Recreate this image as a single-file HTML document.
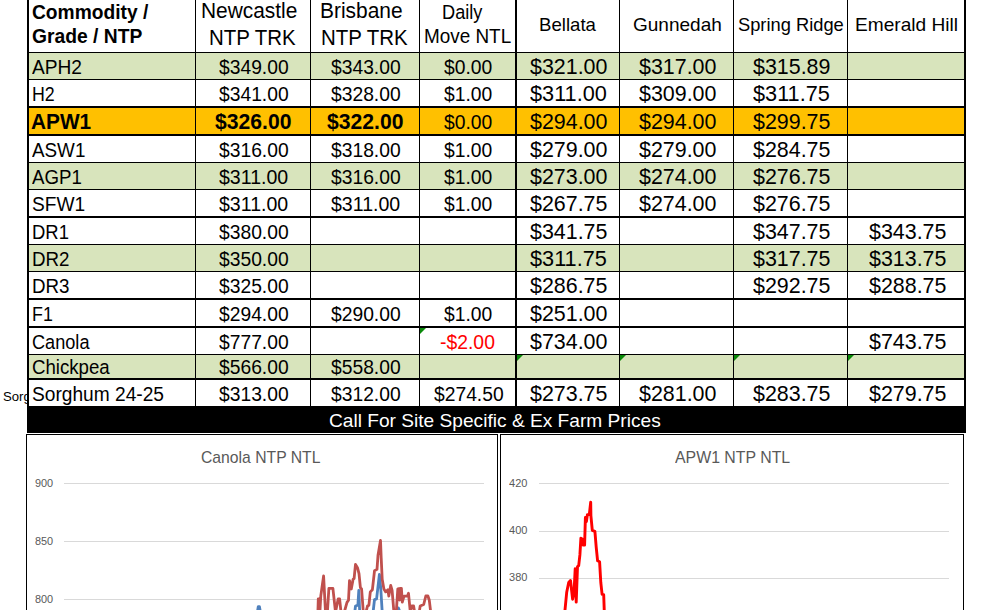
<!DOCTYPE html>
<html><head><meta charset="utf-8"><title>Grain Prices</title>
<style>
html,body{margin:0;padding:0;background:#fff}
body{width:996px;height:610px;position:relative;overflow:hidden;font-family:"Liberation Sans", Arial, sans-serif}
.f,.l,.t,.g{position:absolute}
.l{background:#000}
.t{white-space:pre;line-height:1;transform-origin:0 0}
.g{height:1px;background:#D9D9D9}
.tri{position:absolute;width:0;height:0;border-top:6px solid #0A8A0A;border-right:6px solid transparent}
.ch{position:absolute;border:1px solid #000;border-bottom:none;background:#fff;box-sizing:border-box}
</style></head><body>

<div class="f" style="left:29px;top:53px;width:935px;height:26px;background:#D8E4BC"></div>
<div class="f" style="left:29px;top:108px;width:935px;height:26px;background:#FFC000"></div>
<div class="f" style="left:29px;top:163px;width:935px;height:26px;background:#D8E4BC"></div>
<div class="f" style="left:29px;top:245px;width:935px;height:26px;background:#D8E4BC"></div>
<div class="f" style="left:29px;top:355px;width:935px;height:23px;background:#D8E4BC"></div>
<div class="l" style="left:27px;top:0;width:2px;height:406px"></div>
<div class="l" style="left:195px;top:0;width:1px;height:406px"></div>
<div class="l" style="left:310px;top:0;width:1px;height:406px"></div>
<div class="l" style="left:419px;top:0;width:1px;height:406px"></div>
<div class="l" style="left:515px;top:0;width:2px;height:406px"></div>
<div class="l" style="left:619px;top:0;width:1px;height:406px"></div>
<div class="l" style="left:733px;top:0;width:1px;height:406px"></div>
<div class="l" style="left:847px;top:0;width:1px;height:406px"></div>
<div class="l" style="left:964px;top:0;width:2px;height:406px"></div>
<div class="l" style="left:27px;top:52px;width:939px;height:1px"></div>
<div class="l" style="left:27px;top:79px;width:939px;height:1px"></div>
<div class="l" style="left:27px;top:106px;width:939px;height:2px"></div>
<div class="l" style="left:27px;top:134px;width:939px;height:2px"></div>
<div class="l" style="left:27px;top:162px;width:939px;height:1px"></div>
<div class="l" style="left:27px;top:189px;width:939px;height:1px"></div>
<div class="l" style="left:27px;top:216px;width:939px;height:2px"></div>
<div class="l" style="left:27px;top:244px;width:939px;height:1px"></div>
<div class="l" style="left:27px;top:271px;width:939px;height:1px"></div>
<div class="l" style="left:27px;top:298px;width:939px;height:2px"></div>
<div class="l" style="left:27px;top:326px;width:939px;height:2px"></div>
<div class="l" style="left:27px;top:354px;width:939px;height:1px"></div>
<div class="l" style="left:27px;top:378px;width:939px;height:2px"></div>
<div class="l" style="left:27px;top:406px;width:939px;height:27px"></div>
<div class="tri" style="left:420px;top:328px"></div>
<div class="tri" style="left:517px;top:355px"></div>
<div class="tri" style="left:620px;top:355px"></div>
<div class="tri" style="left:734px;top:355px"></div>
<div class="tri" style="left:848px;top:355px"></div>
<div class="ch" style="left:26px;top:434px;width:472px;height:180px"></div>
<div class="ch" style="left:500px;top:434px;width:464px;height:180px"></div>
<div class="g" style="left:64px;top:483px;width:420px"></div>
<div class="g" style="left:64px;top:541px;width:420px"></div>
<div class="g" style="left:64px;top:599px;width:420px"></div>
<div class="g" style="left:539px;top:483px;width:410px"></div>
<div class="g" style="left:539px;top:531px;width:410px"></div>
<div class="g" style="left:539px;top:578px;width:410px"></div>
<svg class="f" style="left:0;top:0" width="996" height="610" viewBox="0 0 996 610" fill="none" stroke-linejoin="round" stroke-linecap="round">
<polyline stroke="#4F81BD" stroke-width="2.8" points="257.4,612 258.3,606.6 259.4,606.6 260.4,612"/>
<polyline stroke="#4F81BD" stroke-width="2.8" points="354.8,612 355.5,606 357.9,605.2 358.8,590.4 359.7,612"/>
<polyline stroke="#4F81BD" stroke-width="2.8" points="373.1,612 374.5,599.6 376.6,598.9 379.4,574.3 380.8,589 382.2,612"/>
<polyline stroke="#4F81BD" stroke-width="2.8" points="396,612 398.4,608 400,612"/>
<polyline stroke="#C0504D" stroke-width="2.8" points="317.9,612 318.3,598.9 319.2,598.9 319.9,612 320.8,595.9 323.6,576 325.5,612 327.4,612 328.9,588.4 332.9,588.4 335.5,612 338.2,598.9 339.6,599 341,612 344.3,612 347,602.4 348.5,600.3 349.5,580.6 351.3,589 353.1,579.2 354.1,578.5 355.5,564.4 357.6,568 359,573.6 360.4,587.6 361.6,589 363.3,612 366,612 367.5,606 368.9,605.2 370.3,591.9 372.4,589.7 374.5,570.8 377,569.4 378,555.3 380.5,540.5 381.2,558.1 382.2,579.2 383.9,589 385.7,591.9 387.9,589.7 388.8,596.1 390.7,585.5 392.1,590.4 393.9,612 396.3,612 397.8,588.8 399,588.6 399.6,600 400.4,588.4 401.4,588.4 402.3,602.1 404,596.1 407.5,596 408.5,593.3 410.3,612 411.8,606 413.6,606 414.6,612 419.2,612 420.2,606 423.7,604.5 425.8,596 427.9,596 429.3,600.3 430.7,612"/>
<polyline stroke="#FF0000" stroke-width="2.9" points="564.8,612 566.7,592.3 568.7,582.5 570.5,580.5 572.6,599.2 574,592.3 575.2,568.7 576.2,602.1 577.5,566.7 578.7,565.7 579.9,554.9 580.9,538.2 582.5,539.2 583.1,545.1 584.6,545.1 585.4,517.5 586.4,521.5 587.4,514.6 589.3,514.6 590.7,502.2 590.9,515.6 592.3,530.3 594.9,531.3 596.2,547.1 597.6,560.8 599.6,561.8 600.8,582.5 602.1,594.3 603.7,594.7 604.3,612"/>
</svg>

<span class="t" style="left:31.90px;top:2px;font-size:20.0px;font-weight:bold;transform:scaleX(0.9603);">Commodity /</span>
<span class="t" style="left:31.90px;top:26px;font-size:20.0px;font-weight:bold;transform:scaleX(0.9640);">Grade / NTP</span>
<span class="t" style="left:201.03px;top:1px;font-size:21.5px;transform:scaleX(0.9714);">Newcastle</span>
<span class="t" style="left:209.05px;top:28px;font-size:21.5px;transform:scaleX(0.9511);">NTP TRK</span>
<span class="t" style="left:320.43px;top:1px;font-size:21.5px;transform:scaleX(0.9735);">Brisbane</span>
<span class="t" style="left:321.05px;top:28px;font-size:21.5px;transform:scaleX(0.9511);">NTP TRK</span>
<span class="t" style="left:442.18px;top:3px;font-size:19.7px;transform:scaleX(0.9233);">Daily</span>
<span class="t" style="left:424.04px;top:27px;font-size:19.7px;transform:scaleX(0.9596);">Move NTL</span>
<span class="t" style="left:539.48px;top:16px;font-size:18.2px;transform:scaleX(1.0236);">Bellata</span>
<span class="t" style="left:632.55px;top:16px;font-size:18.2px;transform:scaleX(1.0458);">Gunnedah</span>
<span class="t" style="left:737.99px;top:16px;font-size:18.2px;transform:scaleX(1.0058);">Spring Ridge</span>
<span class="t" style="left:854.55px;top:16px;font-size:18.2px;transform:scaleX(1.0505);">Emerald Hill</span>
<span class="t" style="left:31.70px;top:58px;font-size:19.7px;transform:scaleX(0.9725);">APH2</span>
<span class="t" style="left:219.05px;top:58px;font-size:19.7px;transform:scaleX(0.9789);">$349.00</span>
<span class="t" style="left:331.05px;top:58px;font-size:19.7px;transform:scaleX(0.9789);">$343.00</span>
<span class="t" style="left:444.30px;top:58px;font-size:19.7px;transform:scaleX(0.9796);">$0.00</span>
<span class="t" style="left:529.55px;top:57px;font-size:21.5px;transform:scaleX(0.9961);">$321.00</span>
<span class="t" style="left:639.05px;top:57px;font-size:21.5px;transform:scaleX(0.9961);">$317.00</span>
<span class="t" style="left:753.05px;top:57px;font-size:21.5px;transform:scaleX(0.9961);">$315.89</span>
<span class="t" style="left:31.80px;top:85px;font-size:19.7px;transform:scaleX(0.9042);">H2</span>
<span class="t" style="left:219.05px;top:85px;font-size:19.7px;transform:scaleX(0.9789);">$341.00</span>
<span class="t" style="left:331.05px;top:85px;font-size:19.7px;transform:scaleX(0.9789);">$328.00</span>
<span class="t" style="left:444.30px;top:85px;font-size:19.7px;transform:scaleX(0.9796);">$1.00</span>
<span class="t" style="left:529.55px;top:84px;font-size:21.5px;transform:scaleX(1.0092);">$311.00</span>
<span class="t" style="left:639.05px;top:84px;font-size:21.5px;transform:scaleX(0.9961);">$309.00</span>
<span class="t" style="left:753.05px;top:84px;font-size:21.5px;transform:scaleX(1.0092);">$311.75</span>
<span class="t" style="left:31.13px;top:112px;font-size:21.5px;font-weight:bold;transform:scaleX(0.9689);">APW1</span>
<span class="t" style="left:215.15px;top:112px;font-size:21.5px;font-weight:bold;transform:scaleX(0.9831);">$326.00</span>
<span class="t" style="left:327.15px;top:112px;font-size:21.5px;font-weight:bold;transform:scaleX(0.9831);">$322.00</span>
<span class="t" style="left:444.30px;top:113px;font-size:19.7px;transform:scaleX(0.9796);">$0.00</span>
<span class="t" style="left:529.55px;top:112px;font-size:21.5px;transform:scaleX(0.9961);">$294.00</span>
<span class="t" style="left:639.05px;top:112px;font-size:21.5px;transform:scaleX(0.9961);">$294.00</span>
<span class="t" style="left:753.05px;top:112px;font-size:21.5px;transform:scaleX(0.9961);">$299.75</span>
<span class="t" style="left:32.10px;top:141px;font-size:19.7px;transform:scaleX(0.9564);">ASW1</span>
<span class="t" style="left:219.05px;top:141px;font-size:19.7px;transform:scaleX(0.9789);">$316.00</span>
<span class="t" style="left:331.05px;top:141px;font-size:19.7px;transform:scaleX(0.9789);">$318.00</span>
<span class="t" style="left:444.30px;top:141px;font-size:19.7px;transform:scaleX(0.9796);">$1.00</span>
<span class="t" style="left:529.55px;top:140px;font-size:21.5px;transform:scaleX(0.9961);">$279.00</span>
<span class="t" style="left:639.05px;top:140px;font-size:21.5px;transform:scaleX(0.9961);">$279.00</span>
<span class="t" style="left:753.05px;top:140px;font-size:21.5px;transform:scaleX(0.9961);">$284.75</span>
<span class="t" style="left:32.10px;top:168px;font-size:19.7px;transform:scaleX(0.9481);">AGP1</span>
<span class="t" style="left:219.05px;top:168px;font-size:19.7px;transform:scaleX(0.9929);">$311.00</span>
<span class="t" style="left:331.05px;top:168px;font-size:19.7px;transform:scaleX(0.9789);">$316.00</span>
<span class="t" style="left:444.30px;top:168px;font-size:19.7px;transform:scaleX(0.9796);">$1.00</span>
<span class="t" style="left:529.55px;top:167px;font-size:21.5px;transform:scaleX(0.9961);">$273.00</span>
<span class="t" style="left:639.05px;top:167px;font-size:21.5px;transform:scaleX(0.9961);">$274.00</span>
<span class="t" style="left:753.05px;top:167px;font-size:21.5px;transform:scaleX(0.9961);">$276.75</span>
<span class="t" style="left:31.73px;top:195px;font-size:19.7px;transform:scaleX(0.9717);">SFW1</span>
<span class="t" style="left:219.05px;top:195px;font-size:19.7px;transform:scaleX(0.9929);">$311.00</span>
<span class="t" style="left:331.05px;top:195px;font-size:19.7px;transform:scaleX(0.9929);">$311.00</span>
<span class="t" style="left:444.30px;top:195px;font-size:19.7px;transform:scaleX(0.9796);">$1.00</span>
<span class="t" style="left:529.55px;top:194px;font-size:21.5px;transform:scaleX(0.9961);">$267.75</span>
<span class="t" style="left:639.05px;top:194px;font-size:21.5px;transform:scaleX(0.9961);">$274.00</span>
<span class="t" style="left:753.05px;top:194px;font-size:21.5px;transform:scaleX(0.9961);">$276.75</span>
<span class="t" style="left:31.76px;top:223px;font-size:19.7px;transform:scaleX(0.9368);">DR1</span>
<span class="t" style="left:219.05px;top:223px;font-size:19.7px;transform:scaleX(0.9789);">$380.00</span>
<span class="t" style="left:529.55px;top:222px;font-size:21.5px;transform:scaleX(0.9961);">$341.75</span>
<span class="t" style="left:753.05px;top:222px;font-size:21.5px;transform:scaleX(0.9961);">$347.75</span>
<span class="t" style="left:868.75px;top:222px;font-size:21.5px;transform:scaleX(0.9961);">$343.75</span>
<span class="t" style="left:31.75px;top:250px;font-size:19.7px;transform:scaleX(0.9526);">DR2</span>
<span class="t" style="left:219.05px;top:250px;font-size:19.7px;transform:scaleX(0.9789);">$350.00</span>
<span class="t" style="left:529.55px;top:249px;font-size:21.5px;transform:scaleX(1.0092);">$311.75</span>
<span class="t" style="left:753.05px;top:249px;font-size:21.5px;transform:scaleX(0.9961);">$317.75</span>
<span class="t" style="left:868.75px;top:249px;font-size:21.5px;transform:scaleX(0.9961);">$313.75</span>
<span class="t" style="left:31.75px;top:277px;font-size:19.7px;transform:scaleX(0.9526);">DR3</span>
<span class="t" style="left:219.05px;top:277px;font-size:19.7px;transform:scaleX(0.9789);">$325.00</span>
<span class="t" style="left:529.55px;top:276px;font-size:21.5px;transform:scaleX(0.9961);">$286.75</span>
<span class="t" style="left:753.05px;top:276px;font-size:21.5px;transform:scaleX(0.9961);">$292.75</span>
<span class="t" style="left:868.75px;top:276px;font-size:21.5px;transform:scaleX(0.9961);">$288.75</span>
<span class="t" style="left:32.30px;top:305px;font-size:19.7px;transform:scaleX(0.9048);">F1</span>
<span class="t" style="left:219.05px;top:305px;font-size:19.7px;transform:scaleX(0.9789);">$294.00</span>
<span class="t" style="left:331.05px;top:305px;font-size:19.7px;transform:scaleX(0.9789);">$290.00</span>
<span class="t" style="left:444.30px;top:305px;font-size:19.7px;transform:scaleX(0.9796);">$1.00</span>
<span class="t" style="left:529.55px;top:304px;font-size:21.5px;transform:scaleX(0.9961);">$251.00</span>
<span class="t" style="left:31.78px;top:333px;font-size:19.7px;transform:scaleX(0.9210);">Canola</span>
<span class="t" style="left:219.05px;top:333px;font-size:19.7px;transform:scaleX(0.9789);">$777.00</span>
<span class="t" style="left:440.27px;top:333px;font-size:19.7px;color:#FF0000;transform:scaleX(0.9836);">-$2.00</span>
<span class="t" style="left:529.55px;top:332px;font-size:21.5px;transform:scaleX(0.9961);">$734.00</span>
<span class="t" style="left:868.75px;top:332px;font-size:21.5px;transform:scaleX(0.9961);">$743.75</span>
<span class="t" style="left:31.65px;top:358px;font-size:19.7px;transform:scaleX(0.9469);">Chickpea</span>
<span class="t" style="left:219.05px;top:358px;font-size:19.7px;transform:scaleX(0.9789);">$566.00</span>
<span class="t" style="left:331.05px;top:358px;font-size:19.7px;transform:scaleX(0.9789);">$558.00</span>
<span class="t" style="left:31.63px;top:385px;font-size:19.7px;transform:scaleX(0.9724);">Sorghum 24-25</span>
<span class="t" style="left:219.05px;top:385px;font-size:19.7px;transform:scaleX(0.9789);">$313.00</span>
<span class="t" style="left:331.05px;top:385px;font-size:19.7px;transform:scaleX(0.9789);">$312.00</span>
<span class="t" style="left:433.55px;top:385px;font-size:19.7px;transform:scaleX(0.9789);">$274.50</span>
<span class="t" style="left:529.55px;top:384px;font-size:21.5px;transform:scaleX(0.9961);">$273.75</span>
<span class="t" style="left:639.05px;top:384px;font-size:21.5px;transform:scaleX(0.9961);">$281.00</span>
<span class="t" style="left:753.05px;top:384px;font-size:21.5px;transform:scaleX(0.9961);">$283.75</span>
<span class="t" style="left:868.75px;top:384px;font-size:21.5px;transform:scaleX(0.9961);">$279.75</span>
<span class="t" style="left:328.79px;top:411px;font-size:19.0px;color:#fff;transform:scaleX(1.0070);">Call For Site Specific &amp; Ex Farm Prices</span>
<div class="f" style="left:0;top:0;width:27px;height:610px;overflow:hidden"><span class="t" style="left:2.89px;top:390px;font-size:13.0px;transform:scaleX(1.0115);">Sorg</span></div>
<span class="t" style="left:201.20px;top:450px;font-size:16.6px;color:#595959;transform:scaleX(0.9476);">Canola NTP NTL</span>
<span class="t" style="left:674.60px;top:450px;font-size:16.6px;color:#595959;transform:scaleX(0.9558);">APW1 NTP NTL</span>
<span class="t" style="left:35.10px;top:478px;font-size:11.5px;color:#595959;transform:scaleX(0.9474);">900</span>
<span class="t" style="left:35.10px;top:536px;font-size:11.5px;color:#595959;transform:scaleX(0.9474);">850</span>
<span class="t" style="left:35.10px;top:594px;font-size:11.5px;color:#595959;transform:scaleX(0.9474);">800</span>
<span class="t" style="left:508.80px;top:478px;font-size:11.5px;color:#595959;transform:scaleX(0.9579);">420</span>
<span class="t" style="left:508.80px;top:525px;font-size:11.5px;color:#595959;transform:scaleX(0.9579);">400</span>
<span class="t" style="left:508.80px;top:572px;font-size:11.5px;color:#595959;transform:scaleX(0.9579);">380</span>
</body></html>
